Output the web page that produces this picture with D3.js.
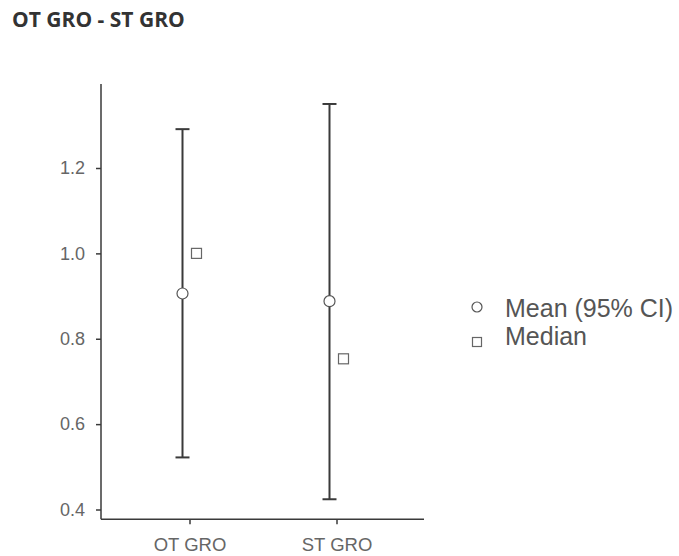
<!DOCTYPE html>
<html><head><meta charset="utf-8">
<script src="https://cdn.jsdelivr.net/npm/d3@7"></script>
<style>body{margin:0;background:#fff;} svg{display:block;}</style>
</head><body>
<svg id="c" width="679" height="556"></svg>
<script>
const title = "OT GRO - ST GRO";
const categories = ["OT GRO", "ST GRO"];
const meanValues = [0.906, 0.888];
const ciLower = [0.522, 0.424];
const ciUpper = [1.291, 1.350];
const medianValues = [1.0, 0.753];
const yTicks = [0.4, 0.6, 0.8, 1.0, 1.2];
const legendLabels = ["Mean (95% CI)", "Median"];

const svg = d3.select("#c");
const axisColor = "#3a3a3a";
const textColor = "#666";
const font = "'Liberation Sans', Arial, sans-serif";

svg.append("text").attr("x", 12).attr("y", 27)
  .attr("font-family", "'Open Sans', sans-serif").attr("font-weight", 700)
  .attr("font-size", 21).attr("fill", "#333").text(title);

const y = d3.scaleLinear().domain([0.4, 1.2]).range([509.5, 168]);
const x = d3.scalePoint().domain(categories).range([189.5, 336.5]);
const plotTop = 84, plotBottom = 519.3, plotLeft = 101, plotRight = 424;
const off = 7;

// y axis
const ya = svg.append("g").attr("transform", `translate(${plotLeft},0)`)
  .call(d3.axisLeft(y).tickValues(yTicks).tickFormat(d3.format(".1f")).tickSize(5).tickPadding(11));
ya.select(".domain").remove();
ya.selectAll(".tick line").attr("stroke", axisColor).attr("stroke-width", 1.5);
ya.selectAll(".tick text").attr("font-family", font).attr("font-size", 18).attr("fill", textColor);

// x axis
const xa = svg.append("g").attr("transform", `translate(0,${plotBottom})`)
  .call(d3.axisBottom(x).tickSize(5));
xa.select(".domain").remove();
xa.selectAll(".tick line").attr("stroke", axisColor).attr("stroke-width", 1.5);
xa.selectAll(".tick text").attr("font-family", font).attr("font-size", 18.5).attr("fill", textColor)
  .attr("dy", 0).attr("y", 31.5);

svg.append("line").attr("x1", plotLeft).attr("x2", plotLeft).attr("y1", plotTop).attr("y2", plotBottom)
  .attr("stroke", axisColor).attr("stroke-width", 1.5);
svg.append("line").attr("x1", plotLeft).attr("x2", plotRight).attr("y1", plotBottom).attr("y2", plotBottom)
  .attr("stroke", axisColor).attr("stroke-width", 1.5);

const data = categories.map((c, i) => ({c, m: meanValues[i], lo: ciLower[i], hi: ciUpper[i], med: medianValues[i]}));
const g = svg.append("g");
const capW = 7;
data.forEach(d => {
  const cx = x(d.c) - off;
  g.append("line").attr("x1", cx).attr("x2", cx).attr("y1", y(d.lo)).attr("y2", y(d.hi))
    .attr("stroke", axisColor).attr("stroke-width", 2);
  [d.lo, d.hi].forEach(v => g.append("line").attr("x1", cx - capW).attr("x2", cx + capW)
    .attr("y1", y(v)).attr("y2", y(v)).attr("stroke", axisColor).attr("stroke-width", 2));
  g.append("circle").attr("cx", cx).attr("cy", y(d.m)).attr("r", 5.5)
    .attr("fill", "#fff").attr("stroke", "#555").attr("stroke-width", 1.2);
  const sx = x(d.c) + off;
  g.append("rect").attr("x", sx - 5).attr("y", y(d.med) - 5).attr("width", 10).attr("height", 10)
    .attr("fill", "#fff").attr("stroke", "#666").attr("stroke-width", 1.2);
});

// legend
const lg = svg.append("g");
lg.append("circle").attr("cx", 477).attr("cy", 307).attr("r", 5)
  .attr("fill", "#fff").attr("stroke", "#555").attr("stroke-width", 1.2);
lg.append("rect").attr("x", 472.5).attr("y", 337.5).attr("width", 9).attr("height", 9)
  .attr("fill", "#fff").attr("stroke", "#666").attr("stroke-width", 1.2);
lg.append("text").attr("x", 505).attr("y", 317).attr("font-family", font).attr("font-size", 25)
  .attr("fill", "#555").text(legendLabels[0]);
lg.append("text").attr("x", 505).attr("y", 345).attr("font-family", font).attr("font-size", 25)
  .attr("fill", "#555").text(legendLabels[1]);
</script>
</body></html>
